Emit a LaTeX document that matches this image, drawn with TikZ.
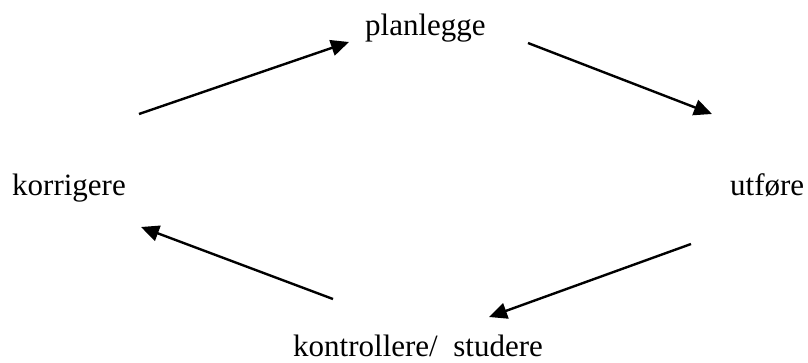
\documentclass[tikz,border=0pt]{standalone}
\usepackage{fontspec}
\setmainfont{Liberation Serif}
\usetikzlibrary{arrows.meta}
\begin{document}
\begin{tikzpicture}[x=1pt,y=-1pt,
  lbl/.style={inner sep=0pt,anchor=base west,font=\fontsize{31}{36}\selectfont},
  flow/.style={line width=2.4pt,-{Triangle[length=18pt,width=16pt]}}]
\useasboundingbox (0,0) rectangle (808,362);
\node[lbl] (plan) at (365,35) {planlegge};
\node[lbl] (korr) at (12,195) {korrigere};
\node[lbl] (utf) at (730,195) {utføre};
\node[lbl] (kontr) at (293,356) {kontrollere/\ \ studere};
\coordinate (a1s) at (139,114); \coordinate (a1e) at (349,42);
\coordinate (a2s) at (528,43);  \coordinate (a2e) at (712,114);
\coordinate (a3s) at (691,244); \coordinate (a3e) at (489,317);
\coordinate (a4s) at (333,299); \coordinate (a4e) at (141,227);
\draw[flow] (a1s) -- (a1e);
\draw[flow] (a2s) -- (a2e);
\draw[flow] (a3s) -- (a3e);
\draw[flow] (a4s) -- (a4e);
\end{tikzpicture}
\end{document}
